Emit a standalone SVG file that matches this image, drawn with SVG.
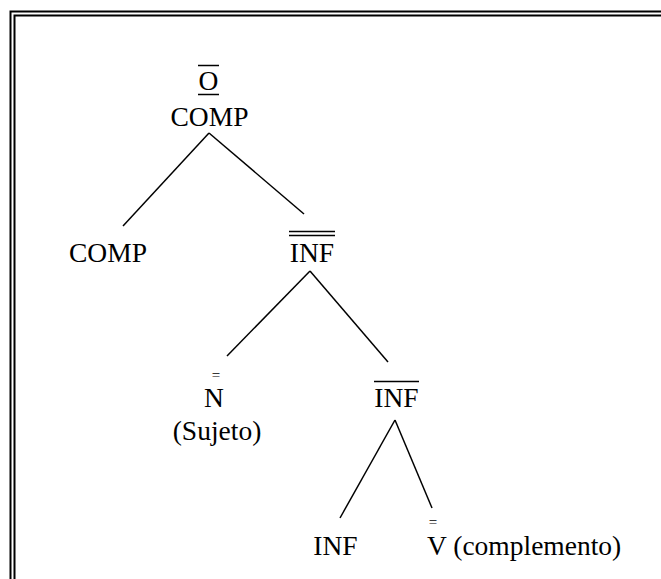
<svg xmlns="http://www.w3.org/2000/svg" width="661" height="579" viewBox="0 0 661 579">
<style>
text{font-family:'Liberation Serif','Times New Roman','DejaVu Serif',serif;font-size:27.5px;fill:#000}
.sm{font-size:15px}
.ln{stroke:#000;stroke-width:1.5;fill:none}
.fr{stroke:#000;stroke-width:2;fill:none}
</style>
<rect width="661" height="579" fill="#fff"/>
<g id="frame">
<path class="fr" d="M10.5,590 V11.5 H670"/>
<path class="fr" d="M14.5,590 V15.5 H670"/>
</g>
<g id="connectors">
<line class="ln" x1="209" y1="133" x2="123" y2="226"/>
<line class="ln" x1="209" y1="133" x2="304" y2="214"/>
<line class="ln" x1="310" y1="271" x2="227" y2="356"/>
<line class="ln" x1="310" y1="271" x2="388" y2="362"/>
<line class="ln" x1="395" y1="420" x2="340" y2="518"/>
<line class="ln" x1="395" y1="420" x2="432" y2="508"/>
</g>
<g id="node-o">
<text x="208.5" y="90" text-anchor="middle" font-family="Liberation Serif, serif">O</text>
<line class="ln" x1="198" y1="65.5" x2="219" y2="65.5"/>
<line class="ln" x1="198" y1="94.5" x2="219" y2="94.5"/>
</g>
<g id="node-comp-top"><text x="209.5" y="126" text-anchor="middle" font-family="Liberation Serif, serif">COMP</text></g>
<g id="node-comp-left"><text x="108" y="262" text-anchor="middle" font-family="Liberation Serif, serif">COMP</text></g>
<g id="node-inf2">
<text x="312" y="262" text-anchor="middle" font-family="Liberation Serif, serif">INF</text>
<line class="ln" x1="289" y1="231.5" x2="335" y2="231.5"/>
<line class="ln" x1="289" y1="235.5" x2="335" y2="235.5"/>
</g>
<g id="node-n">
<text x="216" y="380" class="sm" text-anchor="middle" font-family="Liberation Serif, serif">=</text>
<text x="214" y="407" text-anchor="middle" font-family="Liberation Serif, serif">N</text>
<text x="217" y="440" text-anchor="middle" font-family="Liberation Serif, serif">(Sujeto)</text>
</g>
<g id="node-inf1">
<text x="396.5" y="407" text-anchor="middle" font-family="Liberation Serif, serif">INF</text>
<line class="ln" x1="374" y1="381.5" x2="419" y2="381.5"/>
</g>
<g id="node-inf0"><text x="335.5" y="555" text-anchor="middle" font-family="Liberation Serif, serif">INF</text></g>
<g id="node-v">
<text x="433" y="527" class="sm" text-anchor="middle" font-family="Liberation Serif, serif">=</text>
<text x="427" y="555" font-family="Liberation Serif, serif">V (complemento)</text>
</g>
</svg>
